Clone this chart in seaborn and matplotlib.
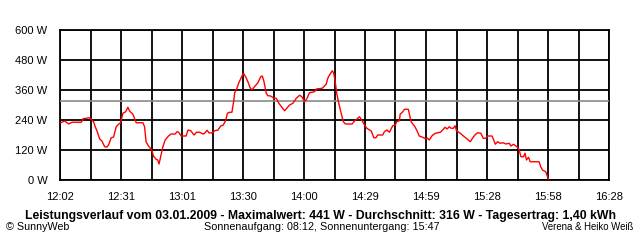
import matplotlib
matplotlib.use("Agg")
import matplotlib.pyplot as plt
import seaborn as sns
import pandas as pd

# elapsed time (chart units, 296 = full width) and power in W
elapsed = [0.4, 2.5, 4.7, 6.5, 11.5, 12.4, 16.0, 16.8, 18.1, 19.0, 20.1, 21.4, 22.6, 24.1, 25.3, 26.2,
           27.6, 28.9, 30.3, 31.6, 32.7, 33.9, 35.4, 36.6, 37.5, 39.3, 41.1, 44.7, 45.6, 46.4, 47.7,
           49.5, 50.4, 51.8, 52.7, 53.4, 54.5, 55.4, 56.7, 58.5, 59.9, 62.1, 63.1, 63.9, 65.3, 68.0,
           69.0, 70.5, 72.3, 73.6, 75.3, 77.1, 78.0, 79.3, 80.4, 82.0, 83.4, 85.2, 86.6, 87.9, 89.2,
           90.3, 91.5, 92.7, 93.6, 94.2, 95.4, 96.3, 97.8, 98.9, 100.1, 101.3, 102.8, 103.7, 105.3,
           106.7, 108.2, 109.1, 110.0, 111.2, 112.1, 113.6, 115.3, 116.6, 118.0, 119.6, 121.1, 122.5,
           123.8, 125.6, 127.4, 129.2, 130.4, 131.9, 133.1, 134.5, 137.2, 138.2, 141.4, 143.5, 144.4,
           145.3, 146.8, 147.6, 148.5, 149.2, 150.3, 151.6, 152.8, 153.9, 157.5, 158.8, 160.5, 161.5,
           163.2, 164.2, 165.4, 167.8, 169.2, 170.4, 171.3, 174.0, 174.9, 176.2, 177.6, 179.4, 180.8,
           181.5, 183.0, 183.4, 184.8, 185.7, 187.8, 189.3, 191.1, 192.3, 193.7, 195.5, 197.4, 198.2,
           199.1, 200.6, 202.4, 205.1, 206.3, 207.6, 208.7, 209.9, 210.8, 212.1, 213.0, 213.8, 215.8,
           218.0, 219.7, 221.2, 222.4, 223.7, 225.1, 226.9, 228.2, 229.6, 230.5, 232.9, 233.7, 234.7,
           235.9, 237.3, 238.9, 240.4, 242.2, 243.1, 244.5, 245.8, 246.7, 247.6, 248.5, 249.9, 250.7,
           251.5, 252.6, 253.5, 258.3, 259.2, 260.1, 261.9, 262.8, 263.3]
power = [229, 236, 224, 231, 231, 245, 249, 243, 233, 213, 193, 164, 156, 133, 132, 140,
         169, 172, 213, 223, 229, 267, 273, 291, 276, 263, 229, 229, 213, 153, 136,
         120, 96, 83, 80, 64, 100, 131, 160, 176, 184, 184, 193, 192, 176, 176,
         200, 197, 180, 191, 191, 184, 187, 199, 188, 189, 197, 200, 216, 219, 236,
         267, 271, 271, 313, 349, 367, 387, 411, 427, 413, 393, 364, 363, 377,
         389, 413, 416, 393, 347, 337, 336, 327, 327, 307, 291, 277, 289,
         300, 307, 327, 339, 333, 313, 325, 349, 353, 364, 367, 383, 407,
         420, 437, 427, 387, 347, 307, 267, 233, 224, 224, 236, 247, 253,
         233, 220, 207, 196, 169, 169, 180, 180, 193, 200, 191, 217, 220,
         233, 237, 263, 273, 283, 283, 233, 216, 200, 176, 171, 164, 167,
         160, 177, 187, 191, 200, 211, 204, 213, 207, 207, 217, 197, 187,
         173, 163, 153, 167, 180, 189, 187, 167, 167, 176, 176, 163, 143,
         153, 147, 149, 144, 147, 136, 143, 136, 131, 120, 93, 93, 107,
         80, 91, 73, 73, 53, 40, 33, 13, 3]

tick_labels = ["12:02", "12:31", "13:01", "13:30", "14:00", "14:29", "14:59", "15:28", "15:58", "16:28"]
x_span = 296.0
y_ticks = [0, 120, 240, 360, 480, 600]
average = 316

title = "Leistungsverlauf vom 03.01.2009 - Maximalwert: 441 W - Durchschnitt: 316 W - Tagesertrag: 1,40 kWh"
left_note = "© SunnyWeb"
center_note = "Sonnenaufgang: 08:12, Sonnenuntergang: 15:47"
right_note = "Verena & Heiko Weiß"

sns.set_style("white")
plt.rcParams['font.family'] = ['Liberation Sans', 'DejaVu Sans']

W, H = 640, 240
fig = plt.figure(figsize=(W / 100, H / 100), dpi=100)
ax = fig.add_axes([60 / W, 60 / H, 549 / W, 150 / H])

df = pd.DataFrame({"t": elapsed, "p": power})
sns.lineplot(data=df, x="t", y="p", color="#ff0000", linewidth=1.0, ax=ax, zorder=5)
ax.axhline(average, color="#8a8a8a", linewidth=1.2, zorder=4)

n = len(tick_labels) - 1
step = x_span / n
ax.set_xlim(0, x_span)
ax.set_xticks([i * step for i in range(n + 1)])
ax.set_xticklabels(tick_labels)
ax.set_xticks([(i + 0.5) * step for i in range(n)], minor=True)
ax.set_ylim(0, 600)
ax.set_yticks(y_ticks)
ax.set_yticklabels([f"{v} W" for v in y_ticks])
ax.grid(True, which="both", color="black", linewidth=1.3)
for s in ax.spines.values():
    s.set_color("black")
    s.set_linewidth(1.3)
ax.tick_params(axis="both", which="both", direction="out", width=1.2, colors="black", labelsize=8)
ax.tick_params(axis="x", which="both", length=5, pad=4)
ax.tick_params(axis="y", which="both", length=3, pad=6)
ax.set_xlabel("")
ax.set_ylabel("")

def fit_text(x, y, s, target_w, ha, weight="normal", size=8):
    t = fig.text(x / W, 1 - y / H, s, ha=ha, va="center", fontsize=size, fontweight=weight, color="black")
    fig.canvas.draw()
    w = t.get_window_extent().width
    t.set_fontsize(size * target_w / w)
    return t

fit_text(320.5, 216.5, title, 587, "center", weight="bold", size=8.5)
fit_text(6, 226.5, left_note, 64, "left", size=8)
fit_text(322, 226.5, center_note, 235, "center", size=8)
fit_text(633, 226.5, right_note, 92, "right", size=8)

fig.savefig("out.png", dpi=100)
